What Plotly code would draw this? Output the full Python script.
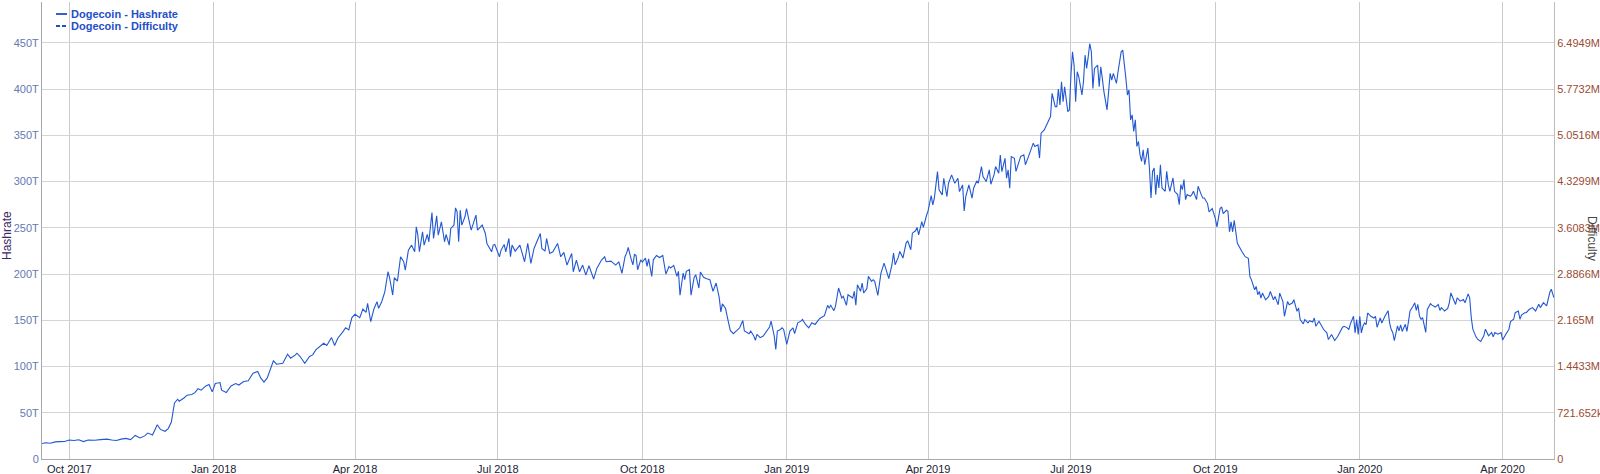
import plotly.graph_objects as go

# ---- data ----
dates = [
    # 2017
    "2017-09-13", "2017-09-16", "2017-09-19", "2017-09-22", "2017-09-25", "2017-09-28",
    "2017-10-01", "2017-10-04", "2017-10-07", "2017-10-10", "2017-10-13", "2017-10-17",
    "2017-10-21", "2017-10-25", "2017-10-28", "2017-10-31", "2017-11-03", "2017-11-06",
    "2017-11-09", "2017-11-12", "2017-11-15", "2017-11-18", "2017-11-20", "2017-11-23",
    "2017-11-26", "2017-11-28", "2017-12-01", "2017-12-03", "2017-12-05", "2017-12-06",
    "2017-12-07", "2017-12-09", "2017-12-10", "2017-12-13", "2017-12-15", "2017-12-18",
    "2017-12-20", "2017-12-22", "2017-12-24", "2017-12-27", "2017-12-29", "2017-12-31",
    # 2018
    "2018-01-02", "2018-01-05", "2018-01-06", "2018-01-09", "2018-01-12", "2018-01-15",
    "2018-01-17", "2018-01-20", "2018-01-23", "2018-01-26", "2018-01-29", "2018-01-31",
    "2018-02-02", "2018-02-04", "2018-02-06", "2018-02-08", "2018-02-10", "2018-02-14",
    "2018-02-17", "2018-02-19", "2018-02-22", "2018-02-23", "2018-02-25", "2018-02-28",
    "2018-03-03", "2018-03-05", "2018-03-07", "2018-03-09", "2018-03-12", "2018-03-14",
    "2018-03-17", "2018-03-19", "2018-03-21", "2018-03-24", "2018-03-26", "2018-03-28",
    "2018-03-30", "2018-04-01", "2018-04-04", "2018-04-06", "2018-04-08", "2018-04-09",
    "2018-04-11", "2018-04-13", "2018-04-15", "2018-04-16", "2018-04-18", "2018-04-20",
    "2018-04-22", "2018-04-23", "2018-04-25", "2018-04-26", "2018-04-28", "2018-04-30",
    "2018-05-02", "2018-05-03", "2018-05-05", "2018-05-07", "2018-05-09", "2018-05-10",
    "2018-05-11", "2018-05-12", "2018-05-14", "2018-05-15", "2018-05-17", "2018-05-18",
    "2018-05-20", "2018-05-21", "2018-05-23", "2018-05-24", "2018-05-26", "2018-05-28",
    "2018-05-29", "2018-05-31", "2018-06-01", "2018-06-03", "2018-06-04", "2018-06-05",
    "2018-06-06", "2018-06-07", "2018-06-08", "2018-06-10", "2018-06-11", "2018-06-13",
    "2018-06-14", "2018-06-17", "2018-06-18", "2018-06-21", "2018-06-23", "2018-06-24",
    "2018-06-25", "2018-06-27", "2018-06-28", "2018-06-29", "2018-07-02", "2018-07-03",
    "2018-07-05", "2018-07-06", "2018-07-08", "2018-07-09", "2018-07-10", "2018-07-12",
    "2018-07-15", "2018-07-18", "2018-07-20", "2018-07-22", "2018-07-24", "2018-07-26",
    "2018-07-28", "2018-07-29", "2018-07-31", "2018-08-01", "2018-08-03", "2018-08-05",
    "2018-08-08", "2018-08-10", "2018-08-12", "2018-08-14", "2018-08-17", "2018-08-18",
    "2018-08-20", "2018-08-22", "2018-08-24", "2018-08-26", "2018-08-28", "2018-08-31",
    "2018-09-02", "2018-09-05", "2018-09-07", "2018-09-08", "2018-09-11", "2018-09-14",
    "2018-09-16", "2018-09-18", "2018-09-19", "2018-09-20", "2018-09-21", "2018-09-22",
    "2018-09-24", "2018-09-25", "2018-09-26", "2018-09-27", "2018-09-28", "2018-09-30",
    "2018-10-01", "2018-10-03", "2018-10-04", "2018-10-05", "2018-10-07", "2018-10-08",
    "2018-10-10", "2018-10-12", "2018-10-14", "2018-10-15", "2018-10-16", "2018-10-18",
    "2018-10-19", "2018-10-21", "2018-10-23", "2018-10-24", "2018-10-25", "2018-10-27",
    "2018-10-28", "2018-10-29", "2018-10-31", "2018-11-01", "2018-11-03", "2018-11-04",
    "2018-11-06", "2018-11-07", "2018-11-09", "2018-11-11", "2018-11-13", "2018-11-15",
    "2018-11-17", "2018-11-19", "2018-11-20", "2018-11-21", "2018-11-23", "2018-11-24",
    "2018-11-26", "2018-11-28", "2018-11-30", "2018-12-02", "2018-12-04", "2018-12-05",
    "2018-12-08", "2018-12-09", "2018-12-11", "2018-12-12", "2018-12-13", "2018-12-15",
    "2018-12-17", "2018-12-19", "2018-12-21", "2018-12-22", "2018-12-24", "2018-12-25",
    "2018-12-26", "2018-12-28", "2018-12-29", "2018-12-30",
    # 2019
    "2019-01-01", "2019-01-03", "2019-01-05", "2019-01-06", "2019-01-08", "2019-01-10",
    "2019-01-11", "2019-01-13", "2019-01-15", "2019-01-17", "2019-01-19", "2019-01-22",
    "2019-01-25", "2019-01-27", "2019-01-28", "2019-01-29", "2019-01-31", "2019-02-01",
    "2019-02-03", "2019-02-05", "2019-02-06", "2019-02-08", "2019-02-09", "2019-02-12",
    "2019-02-13", "2019-02-14", "2019-02-15", "2019-02-17", "2019-02-18", "2019-02-19",
    "2019-02-21", "2019-02-22", "2019-02-24", "2019-02-25", "2019-02-26", "2019-02-28",
    "2019-03-02", "2019-03-04", "2019-03-05", "2019-03-07", "2019-03-09", "2019-03-10",
    "2019-03-11", "2019-03-13", "2019-03-14", "2019-03-16", "2019-03-18", "2019-03-19",
    "2019-03-21", "2019-03-22", "2019-03-24", "2019-03-25", "2019-03-26", "2019-03-28",
    "2019-03-29", "2019-03-30", "2019-03-31", "2019-04-01", "2019-04-03", "2019-04-04",
    "2019-04-05", "2019-04-06", "2019-04-07", "2019-04-08", "2019-04-10", "2019-04-11",
    "2019-04-13", "2019-04-14", "2019-04-16", "2019-04-18", "2019-04-20", "2019-04-21",
    "2019-04-23", "2019-04-24", "2019-04-25", "2019-04-27", "2019-04-29", "2019-04-30",
    "2019-05-02", "2019-05-03", "2019-05-05", "2019-05-06", "2019-05-08", "2019-05-10",
    "2019-05-11", "2019-05-13", "2019-05-14", "2019-05-16", "2019-05-17", "2019-05-18",
    "2019-05-19", "2019-05-20", "2019-05-21", "2019-05-22", "2019-05-23", "2019-05-24",
    "2019-05-26", "2019-05-27", "2019-05-29", "2019-05-30", "2019-06-01", "2019-06-02",
    "2019-06-04", "2019-06-05", "2019-06-07", "2019-06-08", "2019-06-10", "2019-06-11",
    "2019-06-12", "2019-06-14", "2019-06-15", "2019-06-17", "2019-06-18", "2019-06-19",
    "2019-06-21", "2019-06-22", "2019-06-23", "2019-06-24", "2019-06-25", "2019-06-26",
    "2019-06-27", "2019-06-29", "2019-06-30", "2019-07-01", "2019-07-02", "2019-07-03",
    "2019-07-04", "2019-07-05", "2019-07-06", "2019-07-08", "2019-07-09", "2019-07-10",
    "2019-07-11", "2019-07-12", "2019-07-13", "2019-07-14", "2019-07-15", "2019-07-16",
    "2019-07-18", "2019-07-19", "2019-07-20", "2019-07-21", "2019-07-22", "2019-07-24",
    "2019-07-26", "2019-07-27", "2019-07-28", "2019-07-29", "2019-07-30", "2019-07-31",
    "2019-08-02", "2019-08-03", "2019-08-04", "2019-08-05", "2019-08-06", "2019-08-07",
    "2019-08-08", "2019-08-09", "2019-08-10", "2019-08-11", "2019-08-12", "2019-08-13",
    "2019-08-14", "2019-08-15", "2019-08-16", "2019-08-17", "2019-08-19", "2019-08-20",
    "2019-08-21", "2019-08-22", "2019-08-23", "2019-08-24", "2019-08-25", "2019-08-26",
    "2019-08-27", "2019-08-28", "2019-08-29", "2019-08-30", "2019-08-31", "2019-09-01",
    "2019-09-02", "2019-09-04", "2019-09-05", "2019-09-07", "2019-09-08", "2019-09-09",
    "2019-09-10", "2019-09-11", "2019-09-12", "2019-09-13", "2019-09-15", "2019-09-16",
    "2019-09-17", "2019-09-19", "2019-09-20", "2019-09-21", "2019-09-22", "2019-09-23",
    "2019-09-24", "2019-09-26", "2019-09-27", "2019-09-29", "2019-10-01", "2019-10-02",
    "2019-10-04", "2019-10-05", "2019-10-06", "2019-10-08", "2019-10-09", "2019-10-10",
    "2019-10-11", "2019-10-12", "2019-10-13", "2019-10-14", "2019-10-15", "2019-10-18",
    "2019-10-20", "2019-10-22", "2019-10-23", "2019-10-24", "2019-10-26", "2019-10-27",
    "2019-10-28", "2019-10-29", "2019-10-30", "2019-10-31", "2019-11-02", "2019-11-04",
    "2019-11-05", "2019-11-07", "2019-11-08", "2019-11-10", "2019-11-11", "2019-11-13",
    "2019-11-14", "2019-11-16", "2019-11-17", "2019-11-19", "2019-11-20", "2019-11-22",
    "2019-11-23", "2019-11-24", "2019-11-26", "2019-11-27", "2019-11-29", "2019-11-30",
    "2019-12-02", "2019-12-03", "2019-12-04", "2019-12-06", "2019-12-08", "2019-12-09",
    "2019-12-11", "2019-12-12", "2019-12-14", "2019-12-15", "2019-12-16", "2019-12-18",
    "2019-12-19", "2019-12-21", "2019-12-22", "2019-12-24", "2019-12-25", "2019-12-26",
    "2019-12-28", "2019-12-29", "2019-12-30", "2019-12-31",
    # 2020
    "2020-01-01", "2020-01-02", "2020-01-03", "2020-01-04", "2020-01-05", "2020-01-06",
    "2020-01-08", "2020-01-10", "2020-01-11", "2020-01-12", "2020-01-14", "2020-01-15",
    "2020-01-17", "2020-01-19", "2020-01-20", "2020-01-21", "2020-01-22", "2020-01-23",
    "2020-01-25", "2020-01-26", "2020-01-27", "2020-01-28", "2020-01-30", "2020-01-31",
    "2020-02-01", "2020-02-02", "2020-02-04", "2020-02-05", "2020-02-06", "2020-02-07",
    "2020-02-08", "2020-02-09", "2020-02-10", "2020-02-12", "2020-02-13", "2020-02-15",
    "2020-02-16", "2020-02-18", "2020-02-20", "2020-02-21", "2020-02-22", "2020-02-24",
    "2020-02-26", "2020-02-27", "2020-02-28", "2020-03-01", "2020-03-02", "2020-03-03",
    "2020-03-05", "2020-03-07", "2020-03-08", "2020-03-10", "2020-03-11", "2020-03-12",
    "2020-03-13", "2020-03-15", "2020-03-16", "2020-03-18", "2020-03-20", "2020-03-21",
    "2020-03-23", "2020-03-25", "2020-03-26", "2020-03-27", "2020-03-29", "2020-03-31",
    "2020-04-01", "2020-04-03", "2020-04-05", "2020-04-06", "2020-04-08", "2020-04-09",
    "2020-04-11", "2020-04-12", "2020-04-13", "2020-04-15", "2020-04-16", "2020-04-18",
    "2020-04-20", "2020-04-22", "2020-04-24", "2020-04-25", "2020-04-27", "2020-04-29",
    "2020-04-30", "2020-05-01", "2020-05-02", "2020-05-03", "2020-05-03 15:00",
]

# hashrate in TH/s (T)
hashrate_T = [
    # 2017
    16.5, 17.5, 17.0, 18.5, 18.8, 19.0,
    20.5, 20.0, 20.8, 18.8, 20.5, 20.2,
    21.0, 21.5, 20.6, 20.0, 21.5, 22.3,
    21.0, 25.5, 22.8, 25.0, 28.0, 26.0,
    37.0, 32.0, 30.0, 32.9, 40.0, 50.9,
    60.6, 64.6, 62.5, 66.0, 69.0, 69.7,
    71.8, 76.0, 74.4, 79.0, 80.5, 72.6,
    # 2018
    81.6, 82.7, 74.4, 71.8, 79.0, 81.6,
    80.0, 83.8, 84.5, 92.8, 94.6, 87.4,
    83.1, 87.4, 96.4, 106.1, 102.5, 103.6,
    113.3, 109.0, 112.6, 114.4, 110.8, 103.6,
    110.8, 112.6, 118.0, 120.5, 125.2, 122.7,
    131.3, 122.7, 130.6, 137.0, 142.0, 139.6,
    152.9, 156.5, 152.9, 162.2, 158.6, 168.3,
    148.6, 162.2, 170.1, 163.0, 170.1, 181.0,
    202.5, 196.0, 177.3, 196.0, 192.4, 218.7,
    213.3, 204.3, 225.9, 231.3, 224.1, 251.1,
    242.1, 224.1, 245.7, 231.3, 242.8, 234.9,
    266.5, 238.5, 262.9, 242.1, 256.5, 234.9,
    242.8, 231.3, 249.3, 252.9, 271.6, 267.3,
    234.9, 269.1, 252.9, 261.9, 270.9, 254.7,
    247.5, 263.7, 247.5, 252.9, 243.9, 233.1,
    229.5, 224.1, 231.3, 232.0, 218.7, 225.9,
    232.0, 224.1, 238.5, 218.7, 231.3, 224.8,
    231.3, 213.3, 233.1, 211.5, 227.7, 236.7,
    243.9, 227.7, 224.8, 238.5, 222.3, 224.1,
    233.1, 218.7, 223.4, 209.7, 222.3, 202.5,
    215.1, 202.5, 209.7, 198.9, 209.0, 194.6,
    206.1, 215.1, 218.7, 213.3, 214.0, 209.7,
    213.3, 200.7, 210.4, 219.0, 222.6, 228.7,
    215.4, 210.0, 221.5, 220.1, 204.7, 215.4,
    212.9, 217.2, 208.2, 216.5, 197.5, 215.4,
    220.1, 217.9, 220.1, 210.0, 200.0, 208.2,
    206.5, 209.3, 197.5, 202.9, 177.1, 201.1,
    193.9, 202.9, 204.7, 177.1, 196.4, 199.3,
    184.9, 202.2, 196.4, 195.0, 193.9, 181.4,
    190.3, 174.2, 159.1, 167.7, 162.7, 154.5,
    139.1, 135.5, 138.4, 141.9, 149.8, 138.4,
    135.5, 138.4, 133.0, 128.3, 134.8, 131.2,
    133.0, 138.4, 142.7, 149.1, 133.0, 118.6,
    138.4, 140.1, 141.9, 140.1,
    # 2019
    124.0, 138.4, 141.9, 135.5, 147.3, 149.1,
    150.9, 145.5, 141.9, 147.3, 145.5, 152.0,
    155.0, 166.2, 163.3, 166.2, 160.4, 165.1,
    184.9, 174.1, 175.9, 166.2, 177.7, 174.1,
    181.3, 166.2, 188.5, 181.3, 190.3, 179.5,
    184.2, 197.5, 192.1, 193.9, 192.1, 177.0,
    201.1, 211.9, 206.5, 195.0, 210.1, 222.7,
    210.1, 218.0, 224.5, 217.3, 233.5, 236.0,
    226.3, 244.2, 246.8, 250.4, 242.4, 256.8,
    250.4, 258.6, 263.3, 268.3, 284.9, 274.8,
    282.0, 296.4, 310.8, 291.0, 285.6, 303.6,
    283.8, 298.2, 307.2, 298.2, 303.6, 289.2,
    296.4, 268.3, 283.8, 296.4, 282.0, 292.8,
    300.7, 298.2, 316.2, 305.4, 300.0, 312.6,
    297.1, 307.2, 316.2, 309.0, 328.8, 310.8,
    318.0, 325.2, 303.6, 312.6, 292.8, 327.0,
    325.2, 311.0, 321.8, 327.2, 329.0, 318.2,
    327.2, 331.9, 341.6, 338.0, 339.8, 325.4,
    352.3, 355.9, 359.5, 367.8, 370.3, 395.4,
    381.1, 381.1, 400.1, 382.9, 408.0, 386.4,
    402.6, 375.7, 377.5, 415.2, 440.3, 425.9,
    386.4, 418.8, 413.4, 393.6, 408.0, 436.7,
    422.3, 434.9, 449.3, 440.3, 400.8, 422.3,
    425.9, 402.6, 424.1, 411.6, 397.2, 377.5,
    417.0, 409.8, 417.0, 411.6, 406.2, 418.8,
    440.3, 442.1, 422.3, 411.6, 393.6, 399.0,
    366.7, 372.1, 354.1, 366.7, 338.0, 343.4,
    329.0, 321.8, 334.4, 318.2, 336.2, 314.6,
    282.3, 311.0, 314.6, 285.9, 307.4, 293.1,
    318.2, 293.1, 291.3, 289.5, 311.0, 296.7,
    289.5, 303.9, 289.5, 285.9, 275.1, 296.7,
    291.3, 302.1, 280.5, 285.9, 284.1, 285.9,
    289.5, 280.5, 294.9, 289.5, 285.9, 282.3,
    282.3, 276.2, 267.2, 270.8, 260.0, 251.1,
    270.8, 272.6, 265.4, 269.0, 267.9, 245.7,
    256.5, 245.7, 258.2, 245.7, 233.2, 224.2,
    218.8, 217.0, 197.3, 193.7, 183.0, 186.6,
    177.6, 181.2, 174.0, 179.4, 172.2, 175.8,
    181.2, 172.2, 175.8, 166.8, 179.4, 170.4,
    154.3, 170.4, 166.8, 168.6, 172.2, 159.7,
    163.3, 150.7, 146.1, 150.7, 147.1, 149.6,
    148.2, 152.5, 143.5, 148.9, 142.5, 140.0,
    136.4, 129.2, 134.6, 130.3, 128.1, 132.8,
    136.4, 142.5, 143.5, 141.8, 140.0, 146.1,
    154.3, 136.4, 150.7, 134.6,
    # 2020
    154.3, 136.4, 143.5, 147.1, 145.3, 157.9,
    154.3, 152.5, 154.3, 142.5, 152.5, 147.1,
    154.3, 160.4, 147.1, 140.0, 136.8, 127.9,
    143.9, 138.6, 145.0, 137.9, 145.7, 137.9,
    148.6, 160.0, 165.4, 168.9, 160.7, 167.1,
    154.6, 151.0, 152.9, 136.8, 161.8, 167.9,
    166.4, 164.3, 167.1, 160.7, 163.6, 160.0,
    162.9, 168.9, 179.6, 170.7, 167.1, 174.3,
    170.7, 172.5, 168.9, 178.6, 174.3, 152.9,
    140.4, 132.1, 129.6, 127.1, 133.2, 140.4,
    133.2, 136.8, 132.1, 136.8, 135.0, 136.8,
    128.6, 135.0, 140.4, 148.6, 151.1, 158.2,
    160.0, 151.1, 155.7, 158.2, 158.3, 161.9,
    163.7, 160.1, 167.3, 163.7, 169.1, 165.5,
    172.7, 180.0, 183.6, 178.2, 174.5,
]

# difficulty series has no visible line in the reference (legend only)
difficulty_dates = []
difficulty_values = []

# legend labels
series_names = ["Dogecoin - Hashrate", "Dogecoin - Difficulty"]

# axis tick labels
hash_tick_T = [0, 50, 100, 150, 200, 250, 300, 350, 400, 450]
hash_tick_text = ["0", "50T", "100T", "150T", "200T", "250T", "300T", "350T", "400T", "450T"]
diff_tick_vals = [0, 721652, 1443304, 2164956, 2886608, 3608260, 4329912, 5051564, 5773216, 6494868]
diff_tick_text = ["0", "721.652k", "1.4433M", "2.165M", "2.8866M", "3.6083M",
                  "4.3299M", "5.0516M", "5.7732M", "6.4949M"]

T = 1e12
hashrate = [v * T for v in hashrate_T]

# ---- layout constants ----
W, H = 1600, 474
ML, MR, MT, MB = 42, 46, 2, 15
Y_TOP = 494.2 * T
Y2_TOP = Y_TOP / (hash_tick_T[1] * T) * diff_tick_vals[1]

LINE_COLOR = "#2258d2"
LEGEND_COLOR = "#1f4fc8"
FONT = "Liberation Sans, Arial, sans-serif"

fig = go.Figure()
fig.add_trace(go.Scatter(
    x=dates, y=hashrate, mode="lines", name=series_names[0],
    line=dict(color=LINE_COLOR, width=1.1), yaxis="y", hoverinfo="skip",
))
fig.add_trace(go.Scatter(
    x=difficulty_dates, y=difficulty_values, mode="lines", name=series_names[1],
    line=dict(color=LINE_COLOR, width=1, dash="dash"), yaxis="y2", hoverinfo="skip",
))

fig.update_layout(
    template="none",
    width=W, height=H,
    margin=dict(l=ML, r=MR, t=MT, b=MB, pad=0, autoexpand=False),
    paper_bgcolor="white", plot_bgcolor="white",
    showlegend=False,
    font=dict(family=FONT, size=11, color="#222"),
    xaxis=dict(
        type="date", automargin=False,
        range=["2017-09-13 14:24", "2020-05-03 16:48"],
        tick0="2017-10-01", dtick="M3", tickformat="%b %Y",
        showgrid=True, gridcolor="#cacaca", gridwidth=1,
        showline=True, linecolor="#a8a8a8", linewidth=1,
        ticks="", zeroline=False,
        tickfont=dict(family=FONT, size=11, color="#222233"),
    ),
    yaxis=dict(
        automargin=False,
        range=[0, Y_TOP],
        tickvals=[v * T for v in hash_tick_T], ticktext=hash_tick_text,
        showgrid=True, gridcolor="#d4d4d4", gridwidth=1,
        showline=True, linecolor="#a8a8a8", linewidth=1,
        ticks="", zeroline=False,
        tickfont=dict(family=FONT, size=11, color="#6478b4"),
    ),
    yaxis2=dict(
        overlaying="y", side="right", anchor="x", automargin=False,
        range=[0, Y2_TOP],
        tickvals=diff_tick_vals, ticktext=diff_tick_text,
        showgrid=False, showline=True, linecolor="#bdbdbd", linewidth=1,
        ticks="", zeroline=False,
        tickfont=dict(family=FONT, size=11, color="#9a4b32"),
    ),
)

plot_w = W - ML - MR
plot_h = H - MT - MB

def px_x(px):
    return (px - ML) / plot_w

def px_y(py):
    return (H - MB - py) / plot_h

# legend (dygraphs-style text legend, top-left inside the plot)
legend_rows = [14, 26]
shapes = [
    dict(type="line", xref="paper", yref="paper",
         x0=px_x(56), x1=px_x(67), y0=px_y(legend_rows[0]), y1=px_y(legend_rows[0]),
         line=dict(color=LEGEND_COLOR, width=1.8)),
    dict(type="line", xref="paper", yref="paper",
         x0=px_x(56), x1=px_x(67), y0=px_y(legend_rows[1]), y1=px_y(legend_rows[1]),
         line=dict(color=LEGEND_COLOR, width=1.8, dash="4px,2px")),
]
annotations = [
    dict(text="<b>%s</b>" % series_names[0], x=px_x(69), y=px_y(legend_rows[0]),
         xanchor="left", yanchor="middle", font=dict(family=FONT, size=11, color=LEGEND_COLOR)),
    dict(text="<b>%s</b>" % series_names[1], x=px_x(69), y=px_y(legend_rows[1]),
         xanchor="left", yanchor="middle", font=dict(family=FONT, size=11, color=LEGEND_COLOR)),
    dict(text="Hashrate", x=px_x(7), y=px_y(236), textangle=-90,
         xanchor="center", yanchor="middle", font=dict(family=FONT, size=12, color="#3a2a66")),
    dict(text="Difficulty", x=px_x(1592), y=px_y(238), textangle=90,
         xanchor="center", yanchor="middle", font=dict(family=FONT, size=12, color="#444444")),
]
for a in annotations:
    a.update(xref="paper", yref="paper", showarrow=False)
fig.update_layout(annotations=annotations, shapes=shapes)

# remove the browser's default 8px page margin so the chart sits at (0, 0)
fig.write_html(
    "out.html",
    config={"displayModeBar": False},
    post_script="document.body.style.margin='0';document.body.style.overflow='hidden';",
)
